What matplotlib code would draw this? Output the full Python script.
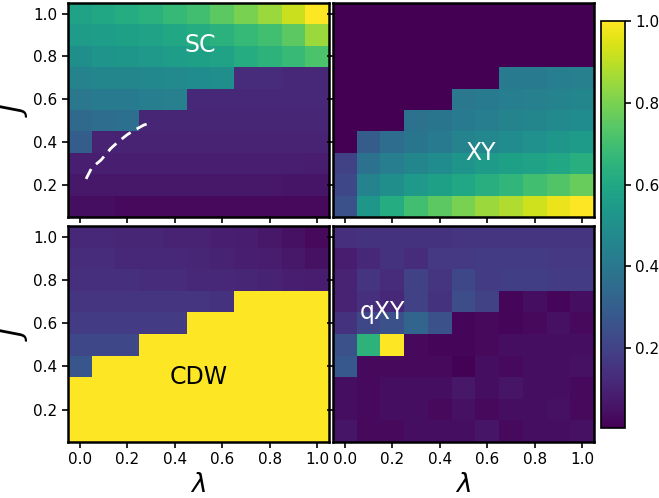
import numpy as np
import matplotlib
matplotlib.use("Agg")
import matplotlib.pyplot as plt

# grid: lambda = 0.0 .. 1.0, J = 0.1 .. 1.0 (rows listed top J=1.0 -> bottom J=0.1)
lam = [0.0, 0.1, 0.2, 0.3, 0.4, 0.5, 0.6, 0.7, 0.8, 0.9, 1.0]
J = [1.0, 0.9, 0.8, 0.7, 0.6, 0.5, 0.4, 0.3, 0.2, 0.1]

sc = [
    [0.58, 0.60, 0.62, 0.64, 0.67, 0.70, 0.75, 0.80, 0.85, 0.92, 1.00],
    [0.55, 0.56, 0.57, 0.58, 0.60, 0.62, 0.64, 0.67, 0.70, 0.75, 0.85],
    [0.50, 0.52, 0.53, 0.54, 0.56, 0.57, 0.58, 0.62, 0.65, 0.68, 0.72],
    [0.45, 0.46, 0.46, 0.47, 0.48, 0.49, 0.50, 0.13, 0.13, 0.12, 0.12],
    [0.40, 0.41, 0.42, 0.43, 0.44, 0.12, 0.12, 0.12, 0.12, 0.12, 0.12],
    [0.35, 0.36, 0.37, 0.11, 0.11, 0.11, 0.11, 0.11, 0.11, 0.11, 0.11],
    [0.30, 0.10, 0.10, 0.10, 0.10, 0.10, 0.10, 0.10, 0.10, 0.10, 0.10],
    [0.09, 0.09, 0.09, 0.09, 0.09, 0.09, 0.09, 0.09, 0.09, 0.09, 0.08],
    [0.07, 0.07, 0.07, 0.07, 0.07, 0.07, 0.07, 0.07, 0.07, 0.06, 0.06],
    [0.04, 0.04, 0.03, 0.03, 0.03, 0.03, 0.03, 0.03, 0.03, 0.03, 0.03],
]

xy = [
    [0.0] * 11,
    [0.0] * 11,
    [0.0] * 11,
    [0.0, 0.0, 0.0, 0.0, 0.0, 0.0, 0.0, 0.42, 0.42, 0.43, 0.44],
    [0.0, 0.0, 0.0, 0.0, 0.0, 0.40, 0.42, 0.43, 0.44, 0.45, 0.46],
    [0.0, 0.0, 0.0, 0.38, 0.39, 0.41, 0.43, 0.45, 0.46, 0.48, 0.49],
    [0.0, 0.30, 0.36, 0.39, 0.42, 0.45, 0.47, 0.49, 0.51, 0.53, 0.55],
    [0.20, 0.38, 0.43, 0.46, 0.49, 0.52, 0.55, 0.57, 0.58, 0.60, 0.63],
    [0.22, 0.45, 0.50, 0.54, 0.57, 0.60, 0.63, 0.66, 0.70, 0.73, 0.77],
    [0.25, 0.53, 0.62, 0.70, 0.75, 0.80, 0.85, 0.88, 0.93, 0.97, 1.00],
]

cdw = [
    [0.12, 0.12, 0.11, 0.11, 0.10, 0.10, 0.09, 0.08, 0.07, 0.05, 0.03],
    [0.13, 0.13, 0.12, 0.12, 0.12, 0.11, 0.10, 0.09, 0.08, 0.07, 0.05],
    [0.14, 0.14, 0.14, 0.13, 0.13, 0.12, 0.12, 0.11, 0.10, 0.09, 0.08],
    [0.16, 0.16, 0.16, 0.16, 0.16, 0.16, 0.15, 1.0, 1.0, 1.0, 1.0],
    [0.18, 0.18, 0.18, 0.18, 0.18, 1.0, 1.0, 1.0, 1.0, 1.0, 1.0],
    [0.22, 0.22, 0.22, 1.0, 1.0, 1.0, 1.0, 1.0, 1.0, 1.0, 1.0],
    [0.27, 1.0, 1.0, 1.0, 1.0, 1.0, 1.0, 1.0, 1.0, 1.0, 1.0],
    [1.0] * 11,
    [1.0] * 11,
    [1.0] * 11,
]

qxy = [
    [0.14, 0.15, 0.15, 0.15, 0.15, 0.16, 0.16, 0.16, 0.16, 0.16, 0.16],
    [0.08, 0.12, 0.15, 0.13, 0.17, 0.17, 0.18, 0.18, 0.18, 0.17, 0.17],
    [0.10, 0.16, 0.13, 0.20, 0.16, 0.22, 0.18, 0.19, 0.19, 0.18, 0.18],
    [0.10, 0.14, 0.12, 0.20, 0.15, 0.24, 0.20, 0.02, 0.04, 0.02, 0.04],
    [0.15, 0.22, 0.25, 0.33, 0.25, 0.02, 0.03, 0.02, 0.03, 0.05, 0.03],
    [0.25, 0.65, 1.00, 0.03, 0.02, 0.02, 0.03, 0.04, 0.04, 0.04, 0.04],
    [0.28, 0.03, 0.03, 0.03, 0.03, 0.01, 0.04, 0.03, 0.04, 0.04, 0.05],
    [0.04, 0.03, 0.04, 0.04, 0.04, 0.07, 0.04, 0.06, 0.04, 0.04, 0.03],
    [0.04, 0.03, 0.04, 0.04, 0.03, 0.05, 0.03, 0.04, 0.04, 0.05, 0.03],
    [0.06, 0.03, 0.03, 0.04, 0.04, 0.04, 0.06, 0.03, 0.04, 0.04, 0.05],
]

# dashed boundary in the SC panel
line_lam = [0.026, 0.05, 0.089, 0.13, 0.16, 0.20, 0.232, 0.27, 0.30]
line_J = [0.228, 0.28, 0.316, 0.37, 0.40, 0.435, 0.457, 0.48, 0.49]

vmin, vmax = 0.005, 1.0
extent = [lam[0] - 0.05, lam[-1] + 0.05, J[-1] - 0.05, J[0] + 0.05]

fig = plt.figure(figsize=(6.59, 4.98), dpi=100)
W, H = 659.0, 498.0

def add_ax(x0, y0, x1, y1, **kw):
    return fig.add_axes([x0 / W, 1 - y1 / H, (x1 - x0) / W, (y1 - y0) / H], **kw)

ax_sc = add_ax(68, 3, 329, 217)
ax_xy = add_ax(333, 3, 594, 217, sharex=ax_sc, sharey=ax_sc)
ax_cdw = add_ax(68, 226, 329, 442, sharex=ax_sc, sharey=ax_sc)
ax_qxy = add_ax(333, 226, 594, 442, sharex=ax_sc, sharey=ax_sc)
cax = add_ax(601, 21, 625, 428)

panels = [(ax_sc, sc), (ax_xy, xy), (ax_cdw, cdw), (ax_qxy, qxy)]
for ax, data in panels:
    im = ax.imshow(np.array(data), cmap="viridis", vmin=vmin, vmax=vmax,
                   extent=extent, aspect="auto", interpolation="nearest")
    ax.set_xlim(extent[0], extent[1])
    ax.set_ylim(extent[2], extent[3])
    ax.set_xticks([0.0, 0.2, 0.4, 0.6, 0.8, 1.0])
    ax.set_yticks([0.2, 0.4, 0.6, 0.8, 1.0])
    ax.tick_params(labelsize=11, width=1.2, length=4)
    for s in ax.spines.values():
        s.set_linewidth(1.8)

ax_sc.tick_params(labelbottom=False)
ax_xy.tick_params(labelbottom=False, labelleft=False)
ax_qxy.tick_params(labelleft=False)

ax_sc.plot(line_lam, line_J, color="white", ls="--", lw=2, dashes=(4, 2.5))

ax_sc.text(0.506, 0.854, "SC", color="white", fontsize=17, ha="center", va="center")
ax_xy.text(0.57, 0.35, "XY", color="white", fontsize=17, ha="center", va="center")
ax_cdw.text(0.50, 0.35, "CDW", color="black", fontsize=17, ha="center", va="center")
ax_qxy.text(0.16, 0.65, "qXY", color="white", fontsize=17, ha="center", va="center")

ax_sc.set_ylabel(r"$J$", fontsize=21)
ax_cdw.set_ylabel(r"$J$", fontsize=21)
ax_sc.yaxis.set_label_coords(-0.145, 0.5)
ax_cdw.yaxis.set_label_coords(-0.145, 0.5)
ax_cdw.set_xlabel(r"$\lambda$", fontsize=19, labelpad=3)
ax_qxy.set_xlabel(r"$\lambda$", fontsize=19, labelpad=3)

cb = fig.colorbar(im, cax=cax, ticks=[0.2, 0.4, 0.6, 0.8, 1.0])
cb.ax.tick_params(labelsize=11, width=1.2, length=4)
cb.outline.set_linewidth(1.2)

fig.savefig("out.png", dpi=100)
